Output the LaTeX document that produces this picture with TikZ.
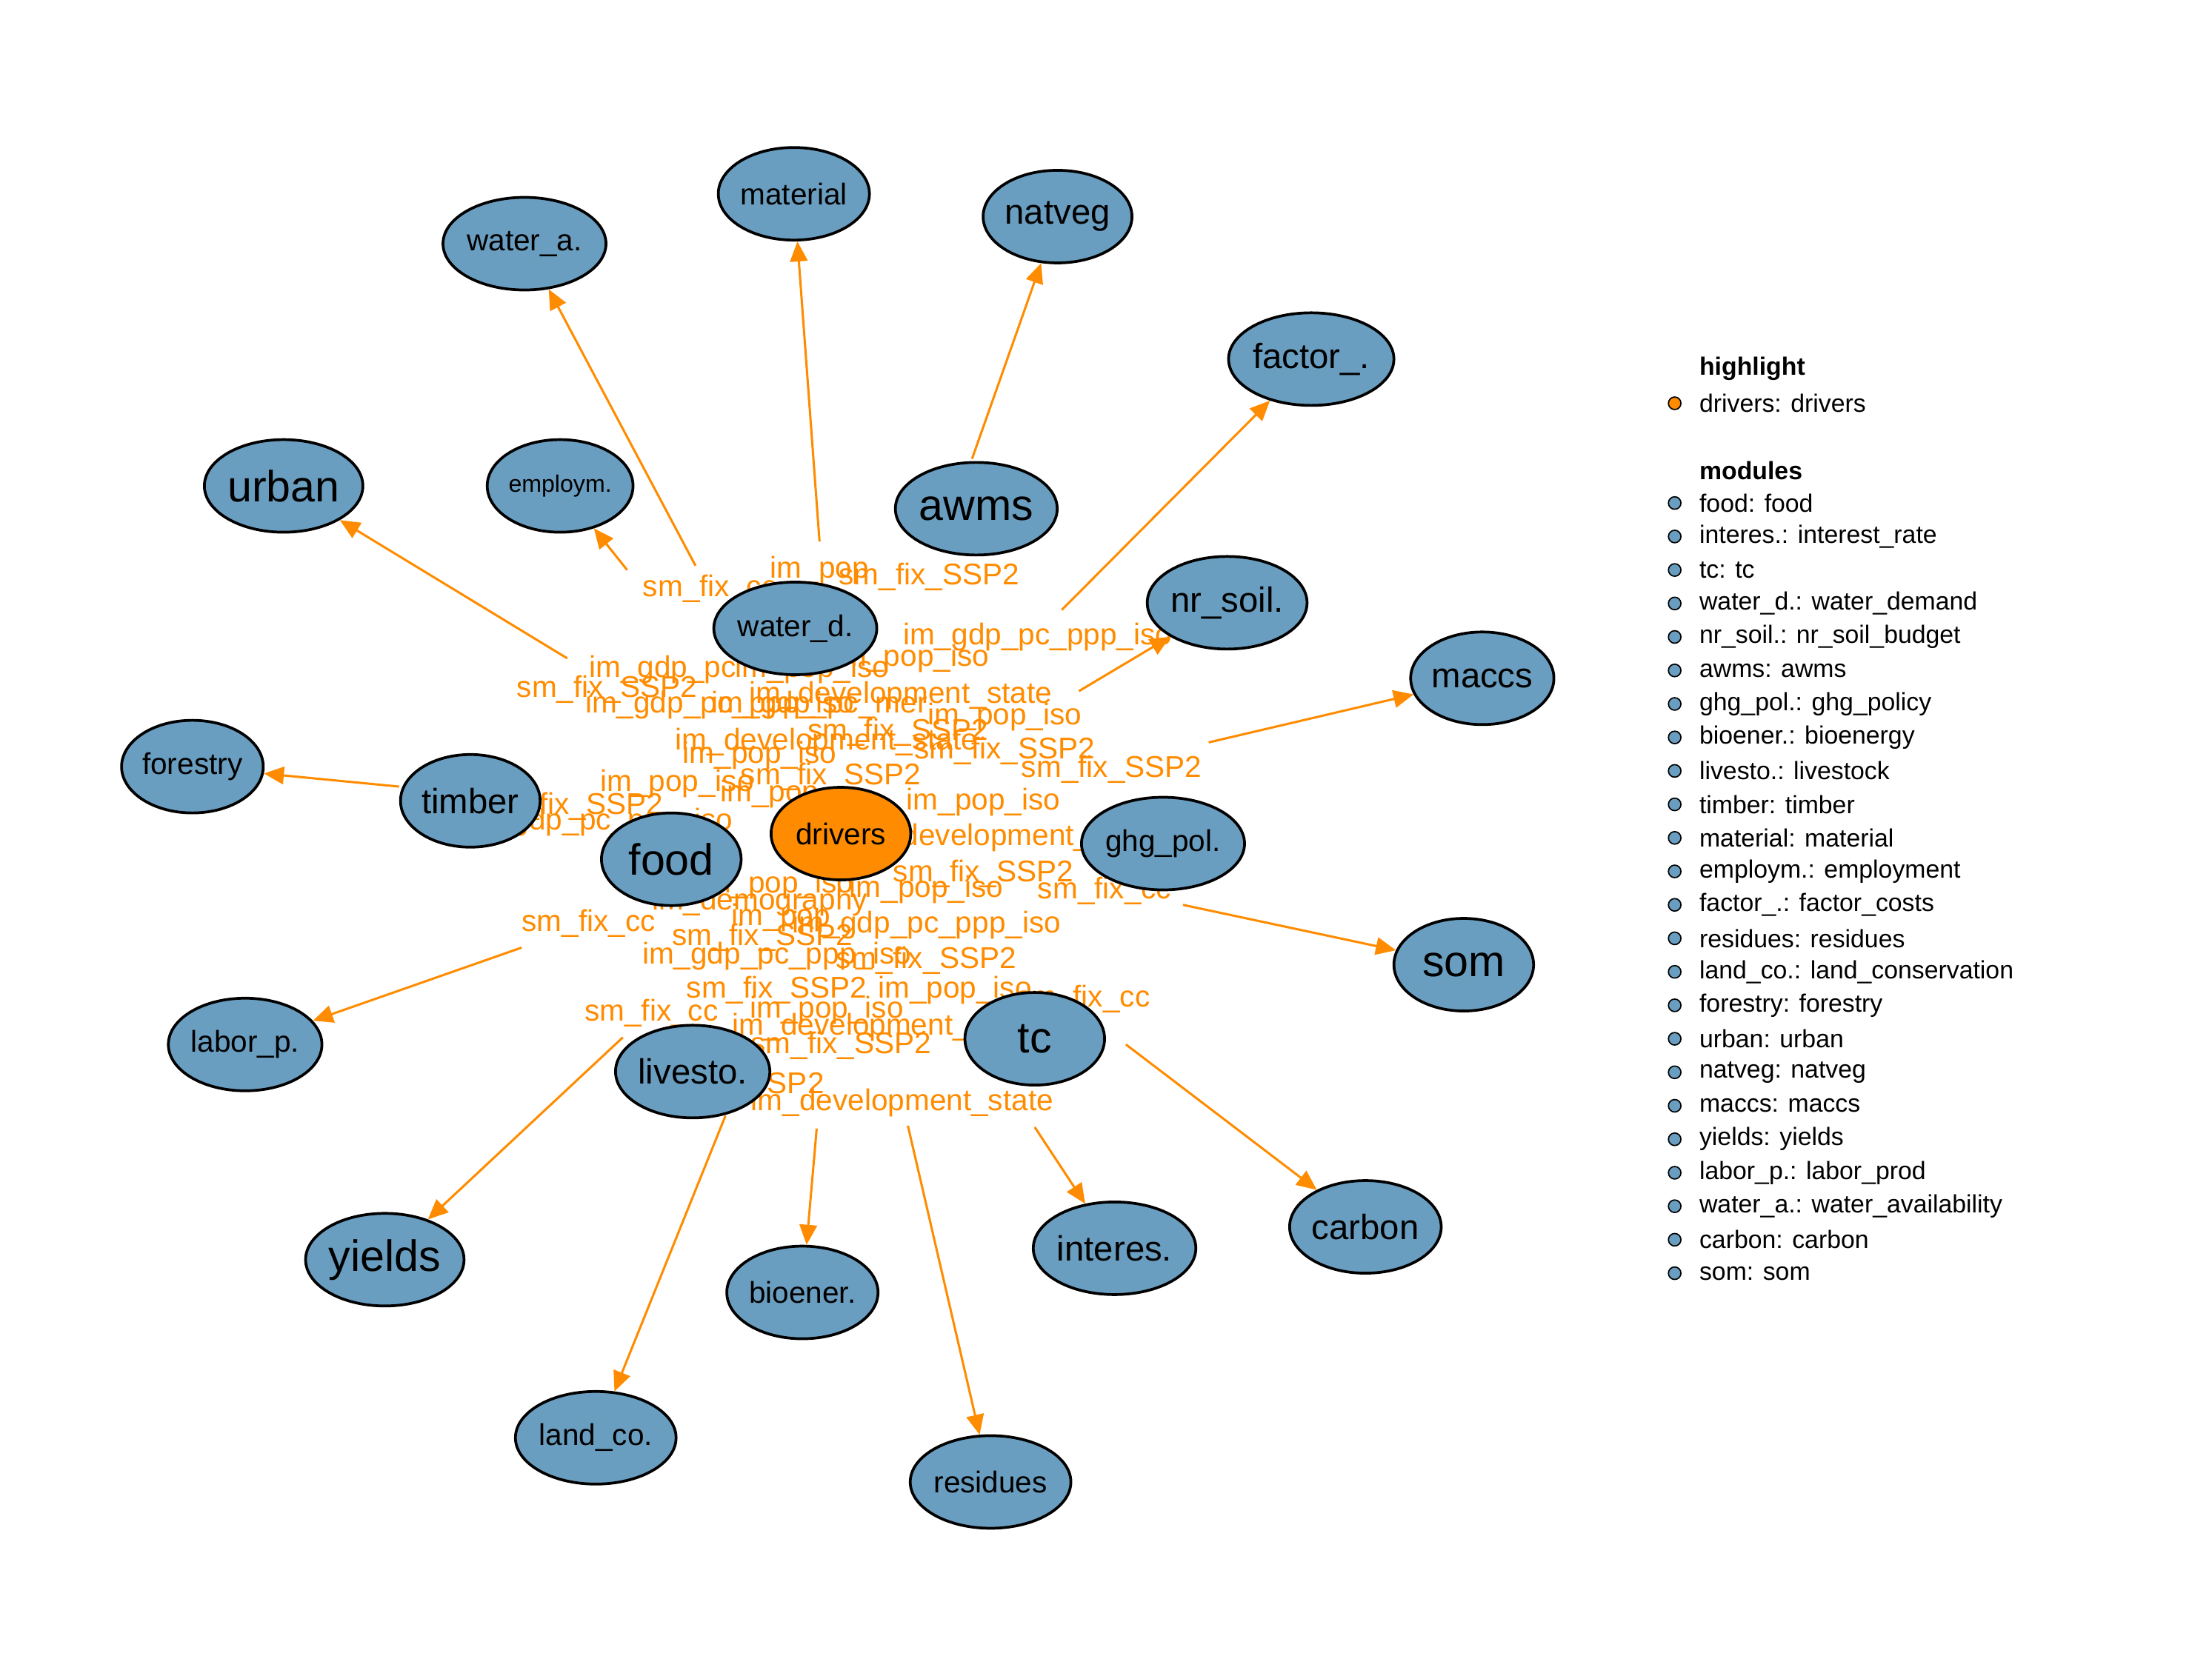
\documentclass[tikz,border=0pt]{standalone}
\usepackage{fontspec}
\setmainfont{Liberation Sans}
\usetikzlibrary{arrows.meta,backgrounds,shapes.geometric}
\definecolor{modblue}{RGB}{106,158,192}
\definecolor{drvorange}{RGB}{255,140,0}
\pgfdeclarelayer{edges}
\pgfdeclarelayer{labels}
\pgfsetlayers{edges,labels,main}
\begin{document}
\begin{tikzpicture}[
    x=0.02cm, y=-0.02cm,
    module/.style={draw, ellipse, fill=modblue, line width=1.1pt, minimum width=1.96cm, minimum height=1.3cm, inner sep=0pt, font=\fontsize{12}{14}\selectfont},
    mid/.style={font=\fontsize{14}{16}\selectfont},
    big/.style={font=\fontsize{17.5}{20}\selectfont},
    tiny/.style={font=\fontsize{9.5}{11}\selectfont},
    edge/.style={draw=drvorange, line width=0.9pt, -{Triangle[length=8pt,width=7pt]}},
    elabel/.style={text=drvorange, inner sep=0pt, font=\fontsize{12}{14}\selectfont},
    dot/.style={circle, draw, line width=0.5pt, inner sep=0pt, minimum size=5pt},
    legtext/.style={anchor=west, inner sep=0pt, font=\fontsize{10}{12}\selectfont}
]
    \useasboundingbox (0,0) rectangle (1552,1164);

    % Nodes
    \node[module, fill=drvorange] (drivers) at (590,585) {drivers};
    \node[module] (watera) at (368,171) {water\_a.};
    \node[module] (material) at (557,136) {material};
    \node[module, mid] (natveg) at (742,152) {natveg};
    \node[module, mid] (factor) at (920,252) {factor\_.};
    \node[module, big] (urban) at (199,341) {urban};
    \node[module, tiny] (employm) at (393,341) {employm.};
    \node[module, big] (awms) at (685,357) {awms};
    \node[module] (waterd) at (558,441) {water\_d.};
    \node[module, mid] (nrsoil) at (861,423) {nr\_soil.};
    \node[module, mid] (maccs) at (1040,476) {maccs};
    \node[module] (forestry) at (135,538) {forestry};
    \node[module, mid] (timber) at (330,562) {timber};
    \node[module, big] (food) at (471,603) {food};
    \node[module] (ghgpol) at (816,592) {ghg\_pol.};
    \node[module, big] (som) at (1027,677) {som};
    \node[module] (laborp) at (172,733) {labor\_p.};
    \node[module, mid] (livesto) at (486,752) {livesto.};
    \node[module, big] (tc) at (726,729) {tc};
    \node[module, mid] (carbon) at (958,861) {carbon};
    \node[module, big] (yields) at (270,884) {yields};
    \node[module, mid] (interes) at (782,876) {interes.};
    \node[module] (bioener) at (563,907) {bioener.};
    \node[module] (landco) at (418,1009) {land\_co.};
    \node[module] (residues) at (695,1040) {residues};

    % Arrows
    \begin{pgfonlayer}{edges}
    \coordinate (s-watera) at (488,397);
    \coordinate (s-material) at (575,380);
    \coordinate (s-natveg) at (682,322);
    \coordinate (s-factor) at (745,428);
    \coordinate (s-urban) at (398,462);
    \coordinate (s-employm) at (440,400);
    \coordinate (s-maccs) at (848,521);
    \coordinate (s-nrsoil) at (757,485);
    \coordinate (s-forestry) at (280,552);
    \coordinate (s-som) at (830,635);
    \coordinate (s-laborp) at (366,665);
    \coordinate (s-yields) at (437,728);
    \coordinate (s-landco) at (509,783);
    \coordinate (s-bioener) at (573,792);
    \coordinate (s-residues) at (637,790);
    \coordinate (s-interes) at (726,791);
    \coordinate (s-carbon) at (790,733);
    \foreach \n in {watera,material,natveg,factor,urban,employm,maccs,nrsoil,forestry,som,laborp,yields,landco,bioener,residues,interes,carbon}
        \draw[edge] (s-\n) -- (\n);
    \end{pgfonlayer}

    % Edge labels
    \begin{pgfonlayer}{labels}
    \foreach \px/\py/\t in {
        575/400/im\_pop, 652/405/sm\_fix\_SSP2, 498/413/sm\_fix\_cc,
        728/447/im\_gdp\_pc\_ppp\_iso, 640/462/im\_pop\_iso, 465/470/im\_gdp\_pc,
        570/470/im\_pop\_iso, 426/484/sm\_fix\_SSP2, 505/495/im\_gdp\_pc\_ppp\_iso,
        575/495/im\_gdp\_pc\_mer, 632/488/im\_development\_state, 705/503/im\_pop\_iso,
        630/514/sm\_fix\_SSP2, 580/521/im\_development\_state, 533/530/im\_pop\_iso,
        705/527/sm\_fix\_SSP2, 780/540/sm\_fix\_SSP2, 475/550/im\_pop\_iso,
        583/545/sm\_fix\_SSP2, 540/557/im\_pop, 690/563/im\_pop\_iso,
        402/566/sm\_fix\_SSP2, 420/577/im\_gdp\_pc\_ppp\_iso, 705/588/im\_development\_state,
        690/613/sm\_fix\_SSP2, 775/625/sm\_fix\_cc, 650/624/im\_pop\_iso,
        545/621/im\_pop\_iso, 533/633/im\_demography, 413/648/sm\_fix\_cc,
        650/649/im\_gdp\_pc\_ppp\_iso, 548/644/im\_pop, 535/658/sm\_fix\_SSP2,
        545/671/im\_gdp\_pc\_ppp\_iso, 650/674/sm\_fix\_SSP2, 545/695/sm\_fix\_SSP2,
        670/695/im\_pop\_iso, 760/701/sm\_fix\_cc, 457/711/sm\_fix\_cc,
        580/709/im\_pop\_iso, 620/721/im\_development\_state, 590/734/sm\_fix\_SSP2,
        515/762/sm\_fix\_SSP2, 633/774/im\_development\_state}
        \node[elabel] at (\px,\py) {\t};
    \end{pgfonlayer}

    % Legend
    \node[legtext, font=\fontsize{10}{12}\selectfont\bfseries] (leghl) at (1192,259) {highlight};
    \node[dot, fill=drvorange] (dot-drivers) at (1175,283) {};
    \node[legtext] at (1192,283) {drivers: drivers};
    \node[legtext, font=\fontsize{10}{12}\selectfont\bfseries] (legmod) at (1192,330) {modules};
    \foreach \t [count=\i from 0] in {food: food, interes.: interest\_rate, tc: tc,
        water\_d.: water\_demand, nr\_soil.: nr\_soil\_budget, awms: awms,
        ghg\_pol.: ghg\_policy, bioener.: bioenergy, livesto.: livestock,
        timber: timber, material: material, employm.: employment,
        factor\_.: factor\_costs, residues: residues, land\_co.: land\_conservation,
        forestry: forestry, urban: urban, natveg: natveg, maccs: maccs,
        yields: yields, labor\_p.: labor\_prod, water\_a.: water\_availability,
        carbon: carbon, som: som} {
        \node[dot, fill=modblue] (dot-\i) at (1175,353+23.5*\i) {};
        \node[legtext] at (1192,353+23.5*\i) {\t};
    }
\end{tikzpicture}
\end{document}
